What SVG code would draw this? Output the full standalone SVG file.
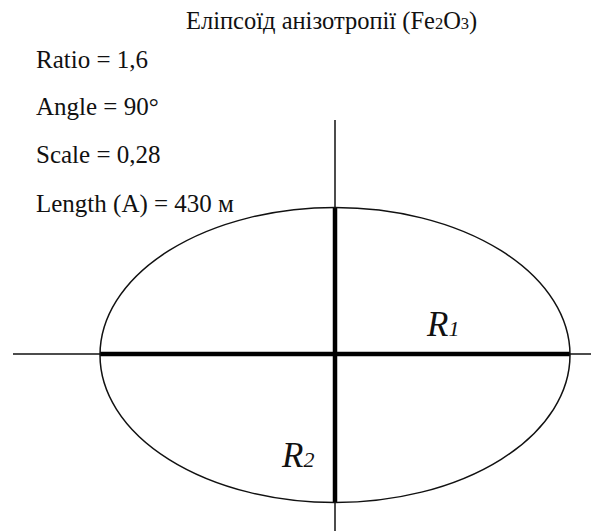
<svg xmlns="http://www.w3.org/2000/svg" width="591" height="531" viewBox="0 0 591 531">
<style>
text{font-family:"Liberation Serif","Times New Roman",serif;fill:#111}
.lbl{font-size:25px}
.r{font-size:35px;font-style:italic}
.thin{stroke:#111;stroke-width:1.5;fill:none}
.thick{stroke:#000;stroke-width:4.5;fill:none}
</style>
<rect width="591" height="531" fill="#fff"/>
<text id="title" x="186" y="29" font-size="24.5">Еліпсоїд анізотропії (Fe<tspan font-size="16.5">2</tspan>O<tspan font-size="16.5">3</tspan>)</text>
<g id="params">
<text class="lbl" x="36" y="68">Ratio = 1,6</text>
<text class="lbl" x="36" y="115">Angle = 90°</text>
<text class="lbl" x="36" y="163">Scale = 0,28</text>
<text class="lbl" x="36" y="212">Length (A) = 430 м</text>
</g>
<g id="connectors">
<line class="thin" x1="13" y1="354" x2="591" y2="354"/>
<line class="thin" x1="335" y1="120" x2="335" y2="531"/>
<line class="thick" x1="100" y1="354" x2="570" y2="354"/>
<line class="thick" x1="335" y1="207" x2="335" y2="503"/>
</g>
<g id="ellipse">
<ellipse class="thin" cx="335" cy="355" rx="235" ry="147.5" stroke-width="1.3"/>
</g>
<g id="R1"><text class="r" x="427" y="336">R<tspan font-size="22">1</tspan></text></g>
<g id="R2"><text class="r" x="282" y="467">R<tspan font-size="22">2</tspan></text></g>
</svg>
